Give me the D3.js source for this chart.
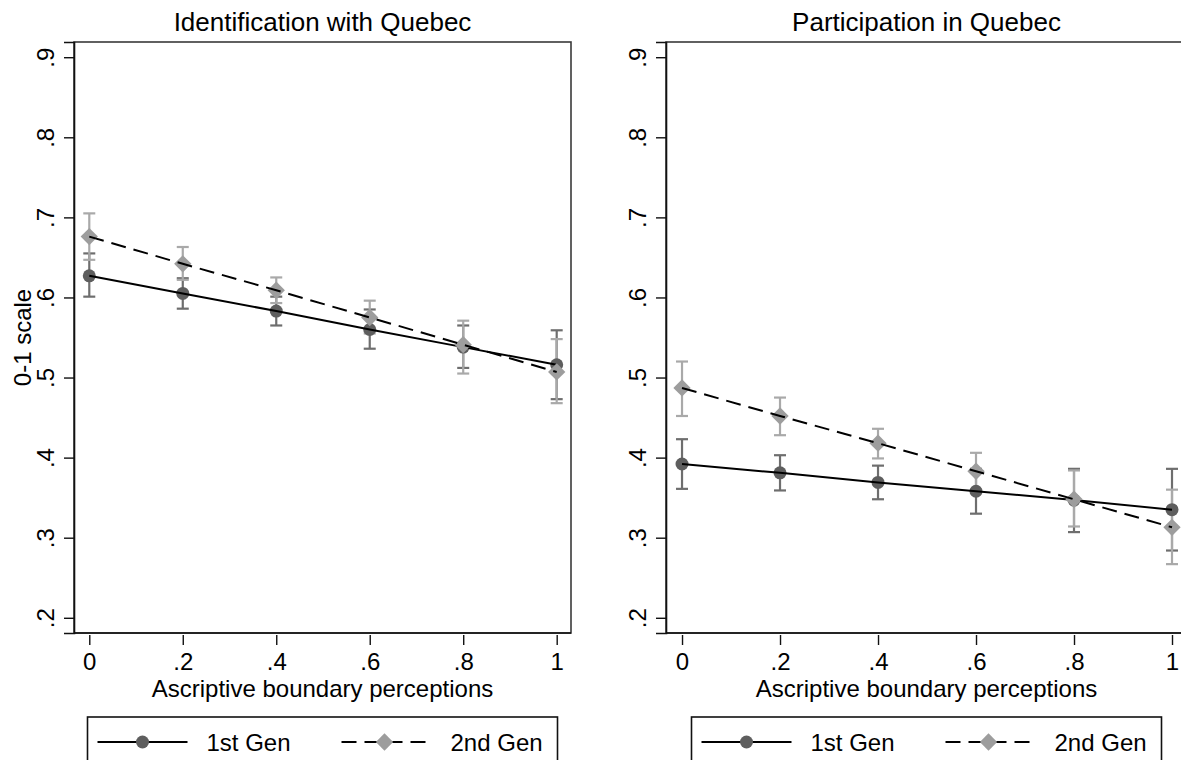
<!DOCTYPE html>
<html>
<head>
<meta charset="utf-8">
<script src="https://cdn.jsdelivr.net/npm/d3@7"></script>
<style>
  html, body { margin: 0; padding: 0; background: #fff; }
  svg { display: block; font-family: "Liberation Sans", Arial, Helvetica, sans-serif; }
</style>
</head>
<body>
<svg id="chart" width="1181" height="760"></svg>
<script>
// ---- data ----
const xValues = [0, 0.2, 0.4, 0.6, 0.8, 1];
const xTickValues = [0, 0.2, 0.4, 0.6, 0.8, 1];
const xTickLabels = ["0", ".2", ".4", ".6", ".8", "1"];
const yTickValues = [0.2, 0.3, 0.4, 0.5, 0.6, 0.7, 0.8, 0.9];
const yTickLabels = [".2", ".3", ".4", ".5", ".6", ".7", ".8", ".9"];
const panelTitles = ["Identification with Quebec", "Participation in Quebec"];
const seriesNames = ["1st Gen", "2nd Gen"];

const idGen1   = [0.627, 0.605, 0.583, 0.560, 0.538, 0.516];
const idGen1Lo = [0.601, 0.586, 0.565, 0.536, 0.512, 0.473];
const idGen1Hi = [0.655, 0.624, 0.601, 0.585, 0.565, 0.559];
const idGen2   = [0.676, 0.642, 0.609, 0.575, 0.541, 0.507];
const idGen2Lo = [0.647, 0.622, 0.593, 0.555, 0.505, 0.468];
const idGen2Hi = [0.705, 0.663, 0.625, 0.596, 0.571, 0.548];

const partGen1   = [0.392, 0.381, 0.369, 0.358, 0.347, 0.335];
const partGen1Lo = [0.361, 0.359, 0.348, 0.330, 0.307, 0.284];
const partGen1Hi = [0.423, 0.403, 0.390, 0.386, 0.386, 0.386];
const partGen2   = [0.487, 0.452, 0.418, 0.383, 0.348, 0.313];
const partGen2Lo = [0.452, 0.428, 0.399, 0.360, 0.314, 0.267];
const partGen2Hi = [0.520, 0.475, 0.436, 0.406, 0.384, 0.360];

// ---- styles ----
const C1 = "#5e5e5e", C1ci = "#6e6e6e";
const C2 = "#9d9d9d", C2ci = "#a9a9a9";
const FS = 24;

const svg = d3.select("#chart");

function panel(cfg) {
  const g = svg.append("g");
  const x = d3.scaleLinear().domain([-0.0327, 1.0306]).range([cfg.left, cfg.right]);
  const y = d3.scaleLinear().domain([0.181, 0.919]).range([633, 42]);

  // frame
  g.append("rect").attr("x", cfg.left).attr("y", 42)
    .attr("width", cfg.right - cfg.left).attr("height", 633 - 42)
    .attr("fill", "none").attr("stroke", "#3a3a3a").attr("stroke-width", 1.6);

  // y axis
  const yAxis = g.append("g").attr("transform", `translate(${cfg.left},0)`)
    .call(d3.axisLeft(y).tickValues(yTickValues).tickSize(10).tickFormat((d, i) => yTickLabels[i]));
  yAxis.select(".domain").attr("stroke", "#111").attr("stroke-width", 1.6);
  yAxis.selectAll(".tick line").attr("stroke", "#111").attr("stroke-width", 1.4);
  yAxis.selectAll(".tick text")
    .attr("font-size", FS).attr("fill", "#000")
    .attr("x", null).attr("dy", null)
    .attr("text-anchor", "middle")
    .attr("transform", "translate(-20,0) rotate(-90)");

  // x axis
  const xAxis = g.append("g").attr("transform", `translate(0,635)`)
    .call(d3.axisBottom(x).tickValues(xTickValues).tickSize(10).tickFormat((d, i) => xTickLabels[i]));
  xAxis.select(".domain").remove();
  xAxis.selectAll(".tick line").attr("stroke", "#111").attr("stroke-width", 1.4);
  xAxis.selectAll(".tick text").attr("font-size", FS).attr("fill", "#000")
    .attr("y", 35).attr("dy", null);
  g.append("line").attr("x1", cfg.left).attr("x2", cfg.right).attr("y1", 633).attr("y2", 633)
    .attr("stroke", "#111").attr("stroke-width", 1.6);

  const cx = (cfg.left + cfg.right) / 2;
  g.append("text").attr("x", cx).attr("y", 31).attr("text-anchor", "middle")
    .attr("font-size", 26).text(cfg.title);
  g.append("text").attr("x", cx).attr("y", 697).attr("text-anchor", "middle")
    .attr("font-size", FS).text("Ascriptive boundary perceptions");
  if (cfg.ylabel) {
    g.append("text").attr("transform", `translate(31,${(42 + 633) / 2}) rotate(-90)`)
      .attr("text-anchor", "middle").attr("font-size", FS).text(cfg.ylabel);
  }

  const plot = g.append("g");
  function ci(lo, hi, color) {
    const pts = xValues.map((v, i) => ({ x: v, lo: lo[i], hi: hi[i] }));
    const cg = plot.append("g").attr("stroke", color).attr("stroke-width", 2.2).attr("fill", "none");
    cg.selectAll("line.v").data(pts).join("line").attr("class", "v")
      .attr("x1", d => x(d.x)).attr("x2", d => x(d.x)).attr("y1", d => y(d.lo)).attr("y2", d => y(d.hi));
    cg.selectAll("line.t").data(pts).join("line").attr("class", "t")
      .attr("x1", d => x(d.x) - 6).attr("x2", d => x(d.x) + 6).attr("y1", d => y(d.hi)).attr("y2", d => y(d.hi));
    cg.selectAll("line.b").data(pts).join("line").attr("class", "b")
      .attr("x1", d => x(d.x) - 6).attr("x2", d => x(d.x) + 6).attr("y1", d => y(d.lo)).attr("y2", d => y(d.lo));
  }
  ci(cfg.g1lo, cfg.g1hi, C1ci);
  ci(cfg.g2lo, cfg.g2hi, C2ci);

  const line = d3.line().x(d => x(d[0])).y(d => y(d[1]));
  const p1 = xValues.map((v, i) => [v, cfg.g1[i]]);
  const p2 = xValues.map((v, i) => [v, cfg.g2[i]]);

  plot.selectAll("circle.g1").data(p1).join("circle").attr("class", "g1")
    .attr("cx", d => x(d[0])).attr("cy", d => y(d[1])).attr("r", 6.5).attr("fill", C1);
  plot.append("path").datum(p1).attr("d", line).attr("fill", "none")
    .attr("stroke", "#000").attr("stroke-width", 2);
  plot.selectAll("path.g2").data(p2).join("path").attr("class", "g2")
    .attr("d", d3.symbol().type(d3.symbolSquare).size(150))
    .attr("transform", d => `translate(${x(d[0])},${y(d[1])}) rotate(45)`).attr("fill", C2);
  plot.append("path").datum(p2).attr("d", line).attr("fill", "none")
    .attr("stroke", "#000").attr("stroke-width", 2).attr("stroke-dasharray", "15,8");

  // legend
  const lx = cx - 235, ly = 717;
  const lg = g.append("g");
  lg.append("rect").attr("x", lx).attr("y", ly).attr("width", 470).attr("height", 70)
    .attr("fill", "#fff").attr("stroke", "#111").attr("stroke-width", 1.6);
  const ry = 742;
  lg.append("line").attr("x1", lx + 10).attr("x2", lx + 100).attr("y1", ry).attr("y2", ry)
    .attr("stroke", "#000").attr("stroke-width", 2);
  lg.append("circle").attr("cx", lx + 55).attr("cy", ry).attr("r", 6.5).attr("fill", C1);
  lg.append("text").attr("x", lx + 119).attr("y", ry + 9).attr("font-size", FS).text(seriesNames[0]);
  lg.append("line").attr("x1", lx + 254).attr("x2", lx + 343).attr("y1", ry).attr("y2", ry)
    .attr("stroke", "#000").attr("stroke-width", 2).attr("stroke-dasharray", "15,8");
  lg.append("path").attr("d", d3.symbol().type(d3.symbolSquare).size(150))
    .attr("transform", `translate(${lx + 297},${ry}) rotate(45)`).attr("fill", C2);
  lg.append("text").attr("x", lx + 363).attr("y", ry + 9).attr("font-size", FS).text(seriesNames[1]);
}

panel({ left: 74, right: 571, title: panelTitles[0], ylabel: "0-1 scale",
  g1: idGen1, g1lo: idGen1Lo, g1hi: idGen1Hi, g2: idGen2, g2lo: idGen2Lo, g2hi: idGen2Hi });
panel({ left: 666, right: 1187, title: panelTitles[1], ylabel: null,
  g1: partGen1, g1lo: partGen1Lo, g1hi: partGen1Hi, g2: partGen2, g2lo: partGen2Lo, g2hi: partGen2Hi });
</script>
</body>
</html>
